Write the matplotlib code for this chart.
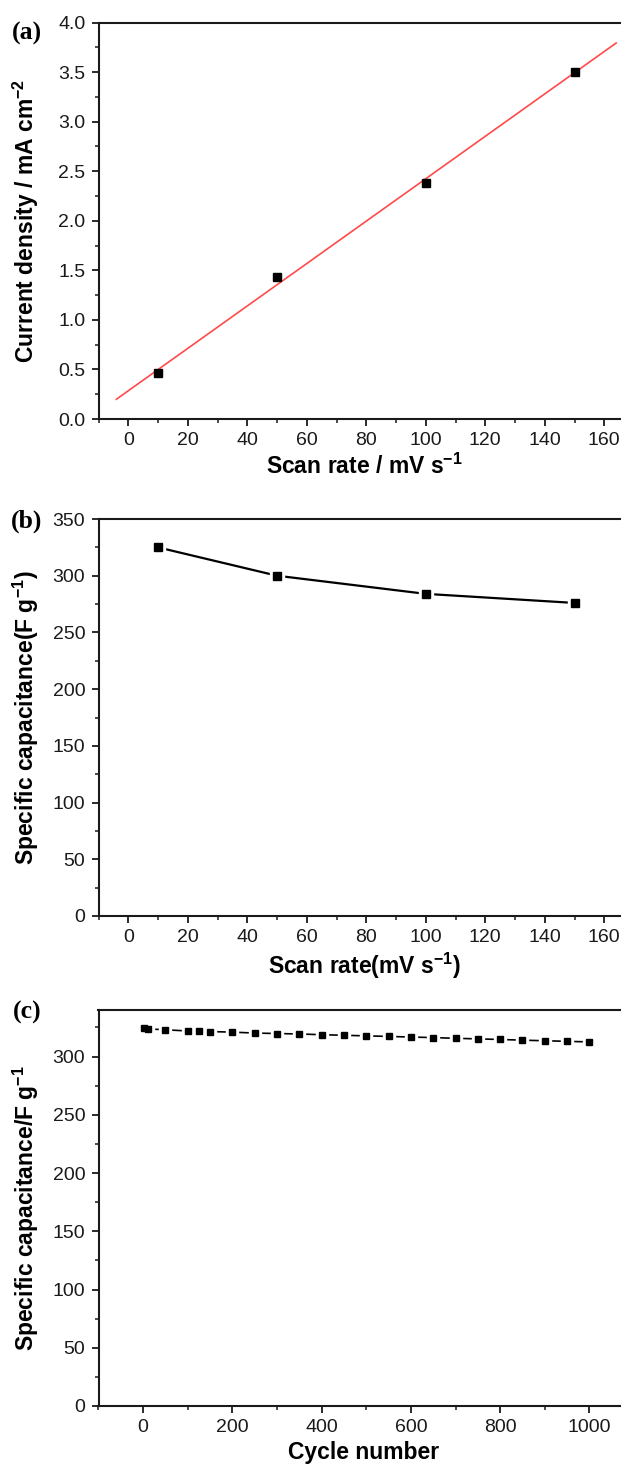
import numpy as np
import matplotlib
matplotlib.use("Agg")
import matplotlib.pyplot as plt
from matplotlib.ticker import MultipleLocator, FormatStrFormatter

plt.rcParams['font.family'] = ['Liberation Sans', 'DejaVu Sans']
plt.rcParams['mathtext.fontset'] = 'custom'
plt.rcParams['mathtext.rm'] = 'Liberation Sans'
plt.rcParams['mathtext.bf'] = 'Liberation Sans:bold'
plt.rcParams['mathtext.default'] = 'regular'

# ---- data ----
scan_rate = [10, 50, 100, 150]
current_density = [0.46, 1.43, 2.38, 3.50]

capacitance_rate = [325, 300, 284, 276]

cycles = [1, 10, 50, 100, 125, 150, 200, 250, 300, 350, 400, 450, 500,
          550, 600, 650, 700, 750, 800, 850, 900, 950, 1000]
capacitance_cycle = [324.5, 323.8, 323.0, 322.0, 321.8, 321.5, 321.0, 320.2,
                     319.8, 319.4, 318.8, 318.3, 317.8, 317.3, 316.8, 316.3,
                     315.7, 315.2, 314.7, 314.1, 313.6, 313.1, 312.6]

fit_range = [-4, 164]

W, H = 621, 1473
fig = plt.figure(figsize=(W / 100, H / 100), dpi=100)
fig.patch.set_facecolor('white')

def px_axes(left, top, right, bottom):
    return fig.add_axes([left / W, 1 - bottom / H, (right - left) / W, (bottom - top) / H])

TICK_FS = 14
LABEL_FS = 16.5

def style(ax):
    ax.spines['right'].set_visible(False)
    for s in ['left', 'bottom', 'top']:
        ax.spines[s].set_linewidth(1.5)
        ax.spines[s].set_color('#1a1a1a')
    ax.tick_params(which='major', direction='out', length=5, width=1.3,
                   labelsize=TICK_FS, top=False, right=False, pad=4.5,
                   colors='#1a1a1a')
    ax.tick_params(which='minor', direction='out', length=3, width=1.1,
                   top=False, right=False, colors='#1a1a1a')

def gapped(ax, x, y, lw, ms):
    ax.plot(x, y, '-', color='black', lw=lw, zorder=2)
    ax.plot(x, y, 's', color='white', ms=ms + 4, mec='white', zorder=3)
    ax.plot(x, y, 's', color='black', ms=ms, zorder=4)

# ---- panel (a) ----
ax1 = px_axes(98.5, 22.5, 634, 419)
style(ax1)
coef = np.polyfit(scan_rate, current_density, 1)
xf = np.array(fit_range, dtype=float)
ax1.plot(xf, np.polyval(coef, xf), '-', color='#ff4a4a', lw=1.2, zorder=2)
ax1.plot(scan_rate, current_density, 's', color='black', ms=5.5, zorder=3)
ax1.set_xlim(-10, 170)
ax1.set_ylim(0, 4.0)
ax1.xaxis.set_major_locator(MultipleLocator(20))
ax1.xaxis.set_minor_locator(MultipleLocator(10))
ax1.yaxis.set_major_locator(MultipleLocator(0.5))
ax1.yaxis.set_minor_locator(MultipleLocator(0.25))
ax1.yaxis.set_major_formatter(FormatStrFormatter('%.1f'))
ax1.set_xlabel('Scan rate / mV s$^{-1}$', fontsize=LABEL_FS, fontweight='bold')
ax1.set_ylabel('Current density / mA cm$^{-2}$', fontsize=LABEL_FS, fontweight='bold')

# ---- panel (b) ----
ax2 = px_axes(98.5, 519, 634, 916)
style(ax2)
gapped(ax2, scan_rate, capacitance_rate, 1.6, 5.5)
ax2.set_xlim(-10, 170)
ax2.set_ylim(0, 350)
ax2.xaxis.set_major_locator(MultipleLocator(20))
ax2.xaxis.set_minor_locator(MultipleLocator(10))
ax2.yaxis.set_major_locator(MultipleLocator(50))
ax2.yaxis.set_minor_locator(MultipleLocator(25))
ax2.set_xlabel('Scan rate(mV s$^{-1}$)', fontsize=LABEL_FS, fontweight='bold')
ax2.set_ylabel('Specific capacitance(F g$^{-1}$)', fontsize=LABEL_FS, fontweight='bold')

# ---- panel (c) ----
ax3 = px_axes(98.5, 1010, 634, 1406)
style(ax3)
gapped(ax3, cycles, capacitance_cycle, 1.2, 5)
ax3.set_xlim(-100, 1100)
ax3.set_ylim(0, 340)
ax3.xaxis.set_major_locator(MultipleLocator(200))
ax3.xaxis.set_minor_locator(MultipleLocator(100))
ax3.yaxis.set_major_locator(MultipleLocator(50))
ax3.yaxis.set_minor_locator(MultipleLocator(25))
ax3.set_xlabel('Cycle number', fontsize=LABEL_FS, fontweight='bold')
ax3.set_ylabel('Specific capacitance/F g$^{-1}$', fontsize=LABEL_FS, fontweight='bold')

for ax in (ax1, ax2, ax3):
    h = ax.get_position().height * H
    w = ax.get_position().width * W
    ax.yaxis.set_label_coords((41 - 98.5) / w, 0.5)
    ax.xaxis.set_label_coords((364 - 98.5) / w, -35 / h)

for label, y in (('(a)', 33), ('(b)', 521), ('(c)', 1012)):
    fig.text(27 / W, 1 - y / H, label, fontsize=18.5, fontweight='bold',
             family='Liberation Serif', ha='center', va='center')

fig.savefig('out.png', dpi=100, facecolor='white')
